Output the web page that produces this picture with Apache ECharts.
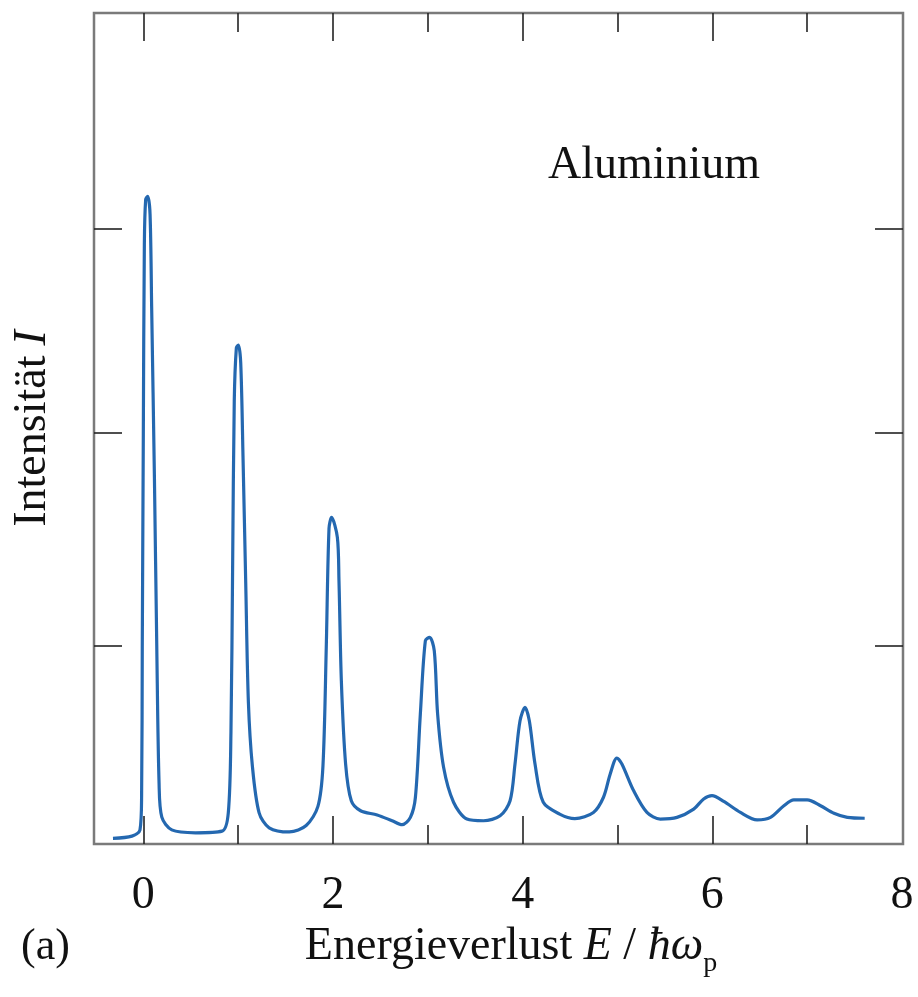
<!DOCTYPE html>
<html>
<head>
<meta charset="utf-8">
<script src="https://cdn.jsdelivr.net/npm/echarts@6/dist/echarts.min.js"></script>
<style>
html,body{margin:0;padding:0;background:#fff;}
#chart{width:918px;height:997px;}
</style>
</head>
<body>
<div id="chart"></div>
<script>
// Energy loss E / ħω_p
var energy = [-0.32,-0.12,-0.035,-0.018,-0.011,0,0.011,0.025,0.046,0.071,0.088,0.117,0.142,0.166,0.195,0.30,0.55,0.83,0.896,0.924,0.942,0.959,0.981,1.002,1.027,1.051,1.08,1.108,1.15,1.221,1.327,1.54,1.717,1.841,1.894,1.929,1.958,1.985,2.046,2.063,2.088,2.133,2.193,2.291,2.466,2.623,2.729,2.816,2.869,2.921,2.974,3.019,3.068,3.103,3.166,3.271,3.412,3.587,3.762,3.867,3.919,3.972,4.025,4.07,4.13,4.217,4.39,4.55,4.746,4.852,4.923,4.993,5.046,5.169,5.31,5.451,5.627,5.803,5.908,5.996,6.12,6.296,6.472,6.613,6.754,6.859,7.0,7.141,7.282,7.423,7.606];
// Intensity I (arbitrary units)
var intensity = [0.027,0.038,0.068,0.232,0.947,1.97,2.889,3.103,3.118,3.032,2.582,1.765,0.947,0.293,0.129,0.068,0.054,0.062,0.150,0.538,1.356,2.133,2.388,2.402,2.316,1.867,1.253,0.681,0.375,0.150,0.078,0.058,0.089,0.181,0.375,0.947,1.519,1.572,1.476,1.267,0.786,0.385,0.208,0.160,0.140,0.112,0.093,0.128,0.225,0.626,0.979,0.995,0.930,0.626,0.369,0.201,0.120,0.112,0.136,0.208,0.385,0.593,0.658,0.593,0.385,0.201,0.144,0.122,0.152,0.225,0.337,0.414,0.385,0.257,0.152,0.120,0.128,0.168,0.217,0.233,0.205,0.152,0.116,0.128,0.184,0.212,0.212,0.184,0.148,0.128,0.124];
var xMajorTicks = [0,2,4,6];
var xMinorTicks = [1,3,5,7];
var xTickLabels = [0,2,4,6,8];
var yTicks = [0.953,1.978,2.960];

var points = energy.map(function(e,i){return [e,intensity[i]];});
var serif = 'Liberation Serif';
var tickStyle = {color:'#222', width:1.6};
var X_MIN = -0.52, X_MAX = 8.01;

function xAx(pos, ticks, len, labels){
  var a = {
    type:'value', position:pos, min:X_MIN, max:X_MAX,
    axisLine:{show:false, onZero:false}, splitLine:{show:false},
    axisTick:{show:true, inside:true, length:len, customValues:ticks, lineStyle:tickStyle},
    axisLabel:{show:false}
  };
  if(labels){
    a.axisLabel = {show:true, customValues:labels, showMinLabel:true, showMaxLabel:true,
      fontFamily:serif, fontSize:46, color:'#111', margin:29};
  }
  return a;
}

var xs = [
  xAx('bottom', xMajorTicks, 28, xTickLabels),
  xAx('bottom', xMinorTicks, 19),
  xAx('top', xMajorTicks, 28),
  xAx('top', xMinorTicks, 19)
];
xs[0].name = '{n|Energieverlust }{i|E}{n| / }{i|ħω}{s|p}';
xs[0].nameLocation = 'middle';
xs[0].nameGap = 82;
xs[0].nameTextStyle = {
  padding:[0,0,0,25],
  rich:{
    n:{fontFamily:serif, fontSize:46, color:'#111', verticalAlign:'bottom', lineHeight:50, padding:[0,0,8,0]},
    i:{fontFamily:serif, fontSize:46, fontStyle:'italic', color:'#111', verticalAlign:'bottom', lineHeight:50, padding:[0,0,8,0]},
    s:{fontFamily:serif, fontSize:28, color:'#111', verticalAlign:'bottom', lineHeight:30}
  }
};

function yAx(pos){
  return {
    type:'value', position:pos, min:0, max:4,
    axisLine:{show:false, onZero:false}, splitLine:{show:false},
    axisTick:{show:true, inside:true, length:28, customValues:yTicks, lineStyle:tickStyle},
    axisLabel:{show:false}
  };
}
var ys = [yAx('left'), yAx('right')];
ys[0].name = '{n|Intensität}   {i|I}';
ys[0].nameLocation = 'middle';
ys[0].nameRotate = 90;
ys[0].nameGap = 38;
ys[0].nameTextStyle = {
  rich:{
    n:{fontFamily:serif, fontSize:46, color:'#111'},
    i:{fontFamily:serif, fontSize:46, fontStyle:'italic', color:'#111'}
  }
};

var chart = echarts.init(document.getElementById('chart'), null, {renderer:'canvas'});
chart.setOption({
  animation:false,
  backgroundColor:'#fff',
  title:[
    {text:'Aluminium', left:543, top:138, textStyle:{fontFamily:serif, fontSize:46, fontWeight:'normal', color:'#111'}},
    {text:'(a)', left:16, top:920, textStyle:{fontFamily:serif, fontSize:44, fontWeight:'normal', color:'#111'}}
  ],
  grid:{left:94, top:13, right:15, bottom:153, show:true, borderColor:'#7a7a7a', borderWidth:2.5, backgroundColor:'transparent'},
  xAxis: xs,
  yAxis: ys,
  series:[{
    type:'line', xAxisIndex:0, yAxisIndex:0, data:points,
    showSymbol:false, smooth:0.3,
    lineStyle:{color:'#2468b0', width:3.2},
    itemStyle:{color:'#2468b0'}
  }]
});
</script>
</body>
</html>
